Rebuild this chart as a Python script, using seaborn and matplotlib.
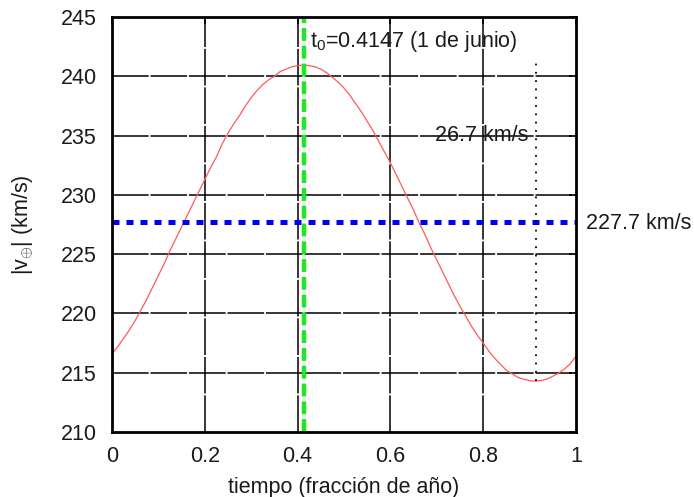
import matplotlib
matplotlib.use("Agg")
import matplotlib.pyplot as plt
import seaborn as sns
import pandas as pd

# Data
t_vals = [0.0000, 0.0125, 0.0250, 0.0375, 0.0500, 0.0625, 0.0750, 0.0875,
          0.1000, 0.1125, 0.1250, 0.1375, 0.1500, 0.1625, 0.1750, 0.1875,
          0.2000, 0.2125, 0.2250, 0.2375, 0.2500, 0.2625, 0.2750, 0.2875,
          0.3000, 0.3125, 0.3250, 0.3375, 0.3500, 0.3625, 0.3750, 0.3875,
          0.4000, 0.4125, 0.4250, 0.4375, 0.4500, 0.4625, 0.4750, 0.4875,
          0.5000, 0.5125, 0.5250, 0.5375, 0.5500, 0.5625, 0.5750, 0.5875,
          0.6000, 0.6125, 0.6250, 0.6375, 0.6500, 0.6625, 0.6750, 0.6875,
          0.7000, 0.7125, 0.7250, 0.7375, 0.7500, 0.7625, 0.7750, 0.7875,
          0.8000, 0.8125, 0.8250, 0.8375, 0.8500, 0.8625, 0.8750, 0.8875,
          0.9000, 0.9125, 0.9250, 0.9375, 0.9500, 0.9625, 0.9750, 0.9875,
          1.0000]
v_vals = [216.6, 217.2, 217.9, 218.6, 219.4, 220.3, 221.2, 222.2,
          223.2, 224.2, 225.3, 226.3, 227.3, 228.3, 229.3, 230.3,
          231.3, 232.3, 233.2, 234.3, 235.2, 236.0, 236.7, 237.5,
          238.2, 238.8, 239.3, 239.7, 240.0, 240.4, 240.6, 240.8,
          240.9, 240.95, 240.9, 240.8, 240.6, 240.3, 239.9, 239.5,
          239.0, 238.4, 237.7, 237.0, 236.2, 235.4, 234.5, 233.6,
          232.7, 231.7, 230.7, 229.7, 228.7, 227.6, 226.6, 225.5,
          224.5, 223.5, 222.5, 221.5, 220.6, 219.75, 218.9, 218.15,
          217.5, 216.8, 216.2, 215.7, 215.2, 214.9, 214.6, 214.45,
          214.33, 214.29, 214.34, 214.46, 214.7, 214.96, 215.3, 215.76,
          216.4]
t0 = 0.4147
v_mean = 227.7
t_min = 0.914
v_min = 214.3
v_top = 241.3
x_ticks = [0, 0.2, 0.4, 0.6, 0.8, 1]
x_tick_labels = ["0", "0.2", "0.4", "0.6", "0.8", "1"]
y_ticks = [210, 215, 220, 225, 230, 235, 240, 245]
label_t0 = "t$_0$=0.4147 (1 de junio)"
label_amp = "26.7 km/s"
label_mean = "227.7 km/s"
xlabel = "tiempo (fracción de año)"
ylabel = r"|v$_{\oplus}$| (km/s)"

df = pd.DataFrame({"t": t_vals, "v": v_vals})

sns.set_theme(style="white")
plt.rcParams["font.family"] = ["Liberation Sans", "DejaVu Sans"]
plt.rcParams["mathtext.fontset"] = "custom"
plt.rcParams["mathtext.rm"] = "Liberation Sans"
plt.rcParams["mathtext.it"] = "Liberation Sans"

fig = plt.figure(figsize=(6.94, 4.97), dpi=100)
ax = fig.add_axes([0.1614, 0.1308, 0.830 - 0.1614, 0.9658 - 0.1308])

fs = 15.5
tc = "#1a1a1a"

# grid
for xv in x_ticks[1:-1]:
    ax.axvline(xv, color="black", lw=1.1, dashes=(24, 1.2), zorder=1)
for yv in y_ticks[1:-1]:
    ax.axhline(yv, color="black", lw=1.1, dashes=(24, 1.2), zorder=1)

sns.lineplot(data=df, x="t", y="v", ax=ax, color="#ff5a5a", lw=0.9, zorder=3)

# mean horizontal line
ax.plot([0, 1], [v_mean, v_mean], color="#0000f0", lw=3.6, dashes=(1.4, 1.4),
        solid_capstyle="butt", dash_capstyle="butt", zorder=4)
# t0 vertical line
ax.axvline(t0, color="#22e622", lw=3.2, dashes=(2.9, 1.1),
           dash_capstyle="butt", zorder=5)
# amplitude dotted line
ax.plot([t_min, t_min], [v_min, v_top], color="black", lw=1.3,
        dashes=(1.0, 3.6), dash_capstyle="butt", zorder=4)

ax.text(t0 + 0.011, 242.9, label_t0, fontsize=fs, va="center", ha="left",
        color=tc)
ax.text(0.898, 235.0, label_amp, fontsize=fs, va="center", ha="right",
        color=tc)
ax.text(1.022, v_mean - 0.15, label_mean, fontsize=fs, va="center", ha="left",
        color=tc, clip_on=False)

ax.set_xlim(0, 1)
ax.set_ylim(210, 245)
ax.set_xticks(x_ticks)
ax.set_xticklabels(x_tick_labels)
ax.set_yticks(y_ticks)
ax.tick_params(axis="both", which="both", direction="in", length=5, width=1.2,
               top=True, right=True, labelsize=fs, colors="black",
               labelcolor=tc, pad=10)
ax.tick_params(axis="y", pad=11)
ax.set_xlabel(xlabel, fontsize=fs, color=tc, labelpad=7)
ax.set_ylabel(ylabel, fontsize=fs, color=tc, labelpad=18)
for s in ax.spines.values():
    s.set_visible(True)
    s.set_color("black")
    s.set_linewidth(2.0)
    s.set_zorder(6)

fig.savefig("out.png", dpi=100)
